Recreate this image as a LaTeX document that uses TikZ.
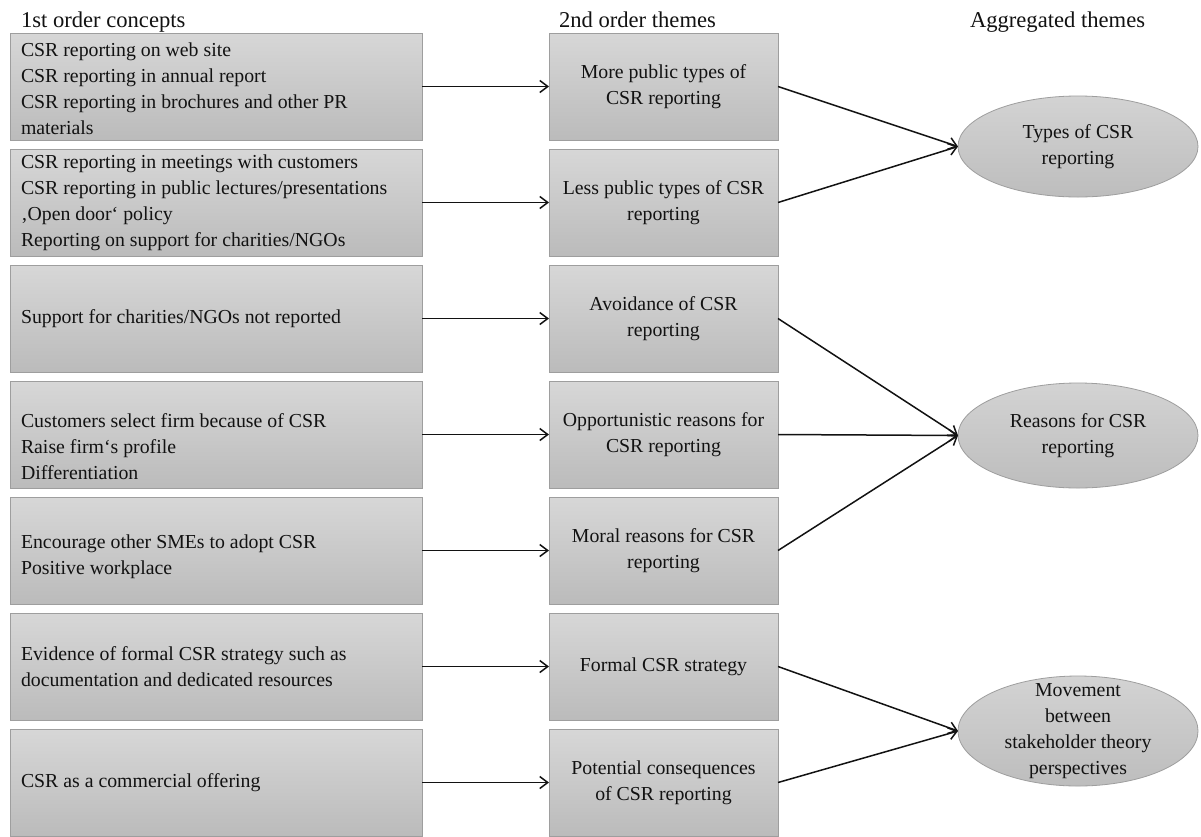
\documentclass[tikz,border=0pt]{standalone}
\usepackage{fontspec}
\setmainfont{Liberation Serif}
\usetikzlibrary{shapes.geometric,arrows.meta}

\definecolor{boxtop}{HTML}{D7D7D7}
\definecolor{boxbot}{HTML}{BBBBBB}
\definecolor{boxedge}{HTML}{9E9E9E}
\definecolor{elltop}{HTML}{D3D3D3}
\definecolor{ellbot}{HTML}{BDBDBD}
\definecolor{ink}{HTML}{121212}

\begin{document}
\begin{tikzpicture}[x=1pt,y=1pt,
  every node/.style={inner sep=0pt, outer sep=0pt, text=ink},
  bodyfont/.style={font=\fontsize{19.8}{26}\selectfont},
  headfont/.style={font=\fontsize{22.6}{27}\selectfont},
  conceptbox/.style={draw=boxedge, line width=1pt, top color=boxtop, bottom color=boxbot,
    minimum width=412pt, minimum height=107pt, anchor=north west},
  conceptlines/.style={anchor=west, align=left, bodyfont},
  themebox/.style={draw=boxedge, line width=1pt, top color=boxtop, bottom color=boxbot,
    minimum width=229pt, minimum height=107pt, anchor=north west, align=center, bodyfont},
  aggregate/.style={ellipse, draw=boxedge, line width=0.8pt, top color=elltop, bottom color=ellbot,
    minimum width=240pt},
  aggtext/.style={align=center, bodyfont},
  link/.style={draw=ink, line width=1.5pt, -{Straight Barb[length=8pt,width=12pt]}}
]
% canvas
\fill[white] (0,0) rectangle (1201,-836);
\useasboundingbox (0,0) rectangle (1201,-836);

% column headings
\node[headfont, anchor=base west] (h1) at (21,-27.5) {1st order concepts};
\node[headfont, anchor=base west] (h2) at (559,-27.5) {2nd order themes};
\node[headfont, anchor=base west] (h3) at (970,-27.5) {Aggregated themes};

% first order concepts
\node[conceptbox] (c1) at (10,-33) {};
\node[conceptbox] (c2) at (10,-149) {};
\node[conceptbox] (c3) at (10,-265) {};
\node[conceptbox] (c4) at (10,-381) {};
\node[conceptbox] (c5) at (10,-497) {};
\node[conceptbox] (c6) at (10,-613) {};
\node[conceptbox] (c7) at (10,-729) {};

\node[conceptlines] (t1) at ([xshift=11pt,yshift=-2pt]c1.west)
  {CSR reporting on web site\\CSR reporting in annual report\\CSR reporting in brochures and other PR\\materials};
\node[conceptlines] (t2) at ([xshift=11pt]c2.west)
  {CSR reporting in meetings with customers\\CSR reporting in public lectures/presentations\\‚Open door‘ policy\\Reporting on support for charities/NGOs};
\node[conceptlines] (t3) at ([xshift=11pt]c3.west) {Support for charities/NGOs not reported};
\node[conceptlines] (t4) at ([xshift=11pt,yshift=-12pt]c4.west)
  {Customers select firm because of CSR\\Raise firm‘s profile\\Differentiation};
\node[conceptlines] (t5) at ([xshift=11pt,yshift=-6pt]c5.west)
  {Encourage other SMEs to adopt CSR\\Positive workplace};
\node[conceptlines] (t6) at ([xshift=11pt]c6.west)
  {Evidence of formal CSR strategy such as\\documentation and dedicated resources};
\node[conceptlines] (t7) at ([xshift=11pt]c7.west) {CSR as a commercial offering};

% second order themes
\node[themebox] (m1) at (549,-33)  {More public types of\\CSR reporting};
\node[themebox] (m2) at (549,-149) {Less public types of CSR\\reporting};
\node[themebox] (m3) at (549,-265) {Avoidance of CSR\\reporting};
\node[themebox] (m4) at (549,-381) {Opportunistic reasons for\\CSR reporting};
\node[themebox] (m5) at (549,-497) {Moral reasons for CSR\\reporting};
\node[themebox] (m6) at (549,-613) {Formal CSR strategy};
\node[themebox] (m7) at (549,-729) {Potential consequences\\of CSR reporting};

% aggregated themes
\node[aggregate, minimum height=101pt] (a1) at (1078,-146.5) {};
\node[aggregate, minimum height=105pt] (a2) at (1078,-435.5) {};
\node[aggregate, minimum height=110pt] (a3) at (1078,-731) {};
\node[aggtext] (x1) at (a1) {Types of CSR\\reporting};
\node[aggtext] (x2) at (a2) {Reasons for CSR\\reporting};
\node[aggtext] (x3) at (a3) {Movement\\between\\stakeholder theory\\perspectives};

% concept -> theme
\foreach \i in {1,...,7} {
  \draw[link] (c\i.east) -- (m\i.west);
}
% theme -> aggregate
\draw[link] (m1.east) -- (a1.west);
\draw[link] (m2.east) -- (a1.west);
\draw[link] (m3.east) -- (a2.west);
\draw[link] (m4.east) -- (a2.west);
\draw[link] (m5.east) -- (a2.west);
\draw[link] (m6.east) -- (a3.west);
\draw[link] (m7.east) -- (a3.west);
\end{tikzpicture}
\end{document}
